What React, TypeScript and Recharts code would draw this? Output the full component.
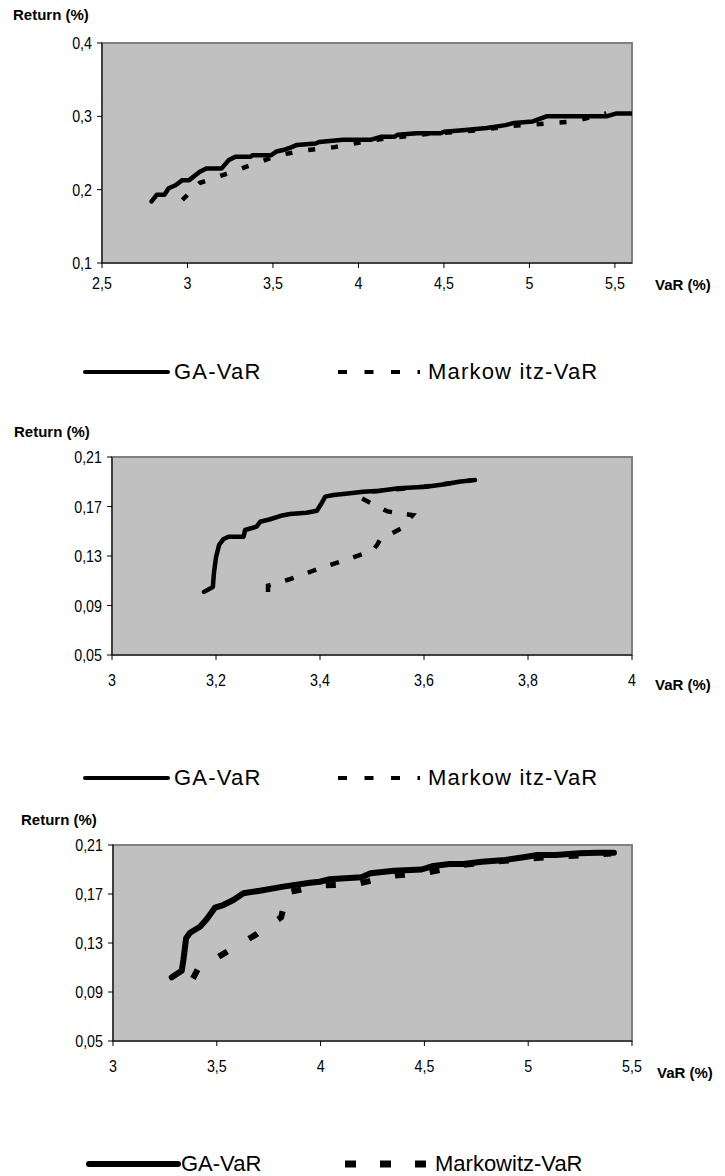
import React from "react";
import { LineChart, Line, XAxis, YAxis, ReferenceArea } from "recharts";

// chart 1 (x = VaR %, y = Return %)
const ga1X = [2.79, 2.82, 2.865, 2.89, 2.93, 2.97, 3.01, 3.07, 3.11, 3.2, 3.24, 3.28, 3.37, 3.38, 3.49, 3.52, 3.56, 3.61, 3.64, 3.75, 3.77, 3.91, 4.07, 4.13, 4.21, 4.23, 4.34, 4.48, 4.5, 4.61, 4.75, 4.86, 4.91, 5.02, 5.1, 5.45, 5.51, 5.6];
const ga1Y = [0.184, 0.193, 0.193, 0.202, 0.206, 0.213, 0.213, 0.224, 0.229, 0.229, 0.24, 0.245, 0.245, 0.247, 0.247, 0.252, 0.254, 0.258, 0.261, 0.263, 0.265, 0.268, 0.268, 0.272, 0.272, 0.275, 0.277, 0.277, 0.279, 0.281, 0.284, 0.288, 0.291, 0.293, 0.3, 0.3, 0.304, 0.304];
const mk1X = [2.97, 3.07, 3.22, 3.39, 3.53, 3.7, 3.86, 4.0, 4.16, 4.4, 4.7, 4.9, 5.09, 5.25, 5.42, 5.45];
const mk1Y = [0.186, 0.209, 0.221, 0.235, 0.247, 0.254, 0.258, 0.264, 0.27, 0.276, 0.281, 0.287, 0.29, 0.293, 0.302, 0.304];
const x1Ticks = [2.5, 3, 3.5, 4, 4.5, 5, 5.5];
const y1Ticks = [0.1, 0.2, 0.3, 0.4];

// chart 2
const ga2X = [3.177, 3.194, 3.196, 3.2, 3.206, 3.214, 3.224, 3.253, 3.256, 3.278, 3.285, 3.304, 3.323, 3.342, 3.374, 3.394, 3.403, 3.41, 3.426, 3.458, 3.483, 3.515, 3.551, 3.604, 3.64, 3.667, 3.698];
const ga2Y = [0.101, 0.105, 0.116, 0.129, 0.139, 0.1435, 0.1456, 0.1456, 0.151, 0.1537, 0.1577, 0.1597, 0.1623, 0.164, 0.165, 0.1666, 0.1726, 0.178, 0.1793, 0.1807, 0.182, 0.1828, 0.1847, 0.186, 0.188, 0.19, 0.1914];
const mk2X = [3.3, 3.3, 3.34, 3.4, 3.45, 3.5, 3.51, 3.515, 3.555, 3.578, 3.53, 3.478, 3.5, 3.6, 3.69];
const mk2Y = [0.101, 0.106, 0.111, 0.12, 0.127, 0.134, 0.139, 0.143, 0.152, 0.163, 0.166, 0.177, 0.182, 0.186, 0.191];
const x2Ticks = [3, 3.2, 3.4, 3.6, 3.8, 4];
const y2Ticks = [0.05, 0.09, 0.13, 0.17, 0.21];

// chart 3
const ga3X = [3.283, 3.331, 3.339, 3.352, 3.371, 3.419, 3.451, 3.491, 3.531, 3.58, 3.628, 3.708, 3.82, 3.949, 3.996, 4.04, 4.197, 4.241, 4.353, 4.487, 4.543, 4.621, 4.688, 4.777, 4.888, 4.978, 5.045, 5.134, 5.245, 5.335, 5.413];
const ga3Y = [0.102, 0.1074, 0.116, 0.1338, 0.1384, 0.1433, 0.1493, 0.1588, 0.161, 0.1651, 0.1706, 0.1727, 0.176, 0.1792, 0.18, 0.182, 0.1836, 0.1869, 0.189, 0.19, 0.1929, 0.1945, 0.1945, 0.1964, 0.1978, 0.2, 0.2018, 0.2018, 0.2032, 0.2037, 0.2037];
const mk3X = [3.385, 3.41, 3.54, 3.69, 3.81, 3.82, 3.83, 4.0, 4.17, 4.3, 4.36, 4.5, 4.7, 5.0, 5.4];
const mk3Y = [0.101, 0.109, 0.122, 0.137, 0.151, 0.158, 0.171, 0.177, 0.178, 0.183, 0.185, 0.187, 0.194, 0.199, 0.203];
const x3Ticks = [3, 3.5, 4, 4.5, 5, 5.5];
const y3Ticks = [0.05, 0.09, 0.13, 0.17, 0.21];

const toPts = (xs: number[], ys: number[]) => xs.map((x, i) => ({ x, y: ys[i] }));
const comma = (v: number) => String(v).replace(".", ",");

const FONT = "'Liberation Sans', Arial, sans-serif";

// narrow-looking tick text (no Arial Narrow installed, so squeeze it)
function NarrowTick(props: any) {
  const { x, y, payload, textAnchor, vertical } = props;
  return (
    <g transform={`translate(${x},${y}) scale(0.84,1)`}>
      <text x={0} y={0} dy={vertical ? "0.36em" : "0.71em"} textAnchor={textAnchor} fill="#000" fontSize={17} fontFamily={FONT}>
        {comma(payload.value)}
      </text>
    </g>
  );
}

interface FrontierProps {
  top: number;
  ga: { x: number; y: number }[];
  mk: { x: number; y: number }[];
  xDomain: [number, number];
  yDomain: [number, number];
  xTicks: number[];
  yTicks: number[];
  margin: { top: number; left: number; bottom: number };
  lineWidth: number;
  dash: string;
  tickGap: number;
}

function Frontier({ top, ga, mk, xDomain, yDomain, xTicks, yTicks, margin, lineWidth, dash, tickGap }: FrontierProps) {
  return (
    <div style={{ position: "absolute", left: 0, top }}>
      <LineChart width={725} height={300} margin={{ top: margin.top, right: 93, left: margin.left, bottom: margin.bottom }}>
        <ReferenceArea x1={xDomain[0]} x2={xDomain[1]} y1={yDomain[0]} y2={yDomain[1]} fill="#c0c0c0" fillOpacity={1} stroke="#808080" strokeWidth={2} />
        <XAxis
          type="number"
          dataKey="x"
          domain={xDomain}
          ticks={xTicks}
          allowDataOverflow
          height={35}
          tickSize={5}
          tickMargin={tickGap}
          axisLine={{ stroke: "#000" }}
          tickLine={{ stroke: "#000" }}
          tick={(p: any) => <NarrowTick {...p} vertical={false} />}
        />
        <YAxis
          type="number"
          dataKey="y"
          domain={yDomain}
          ticks={yTicks}
          allowDataOverflow
          width={60}
          tickSize={5}
          tickMargin={5}
          axisLine={{ stroke: "#000" }}
          tickLine={{ stroke: "#000" }}
          tick={(p: any) => <NarrowTick {...p} vertical={true} />}
        />
        <Line data={mk} dataKey="y" stroke="#000" strokeWidth={lineWidth} strokeDasharray={dash} dot={false} isAnimationActive={false} />
        <Line data={ga} dataKey="y" stroke="#000" strokeWidth={lineWidth} strokeLinecap="round" strokeLinejoin="round" dot={false} isAnimationActive={false} />
      </LineChart>
    </div>
  );
}

function Title({ text, left, top }: { text: string; left: number; top: number }) {
  return (
    <div style={{ position: "absolute", left, top: top - 9, fontFamily: FONT, fontWeight: "bold", fontSize: 15, lineHeight: "18px", color: "#000" }}>
      {text}
    </div>
  );
}

function LegendRow({ top, heavy, mkLabel }: { top: number; heavy: boolean; mkLabel: string }) {
  const textStyle: React.CSSProperties = {
    position: "absolute",
    top: top - 14,
    fontFamily: FONT,
    fontSize: 22,
    lineHeight: "28px",
    letterSpacing: heavy ? 0 : 1.2,
    color: "#000",
  };
  return (
    <>
      <svg style={{ position: "absolute", left: 0, top: top - 10 }} width={725} height={20}>
        <line x1={heavy ? 89 : 85} x2={heavy ? 178 : 168} y1={10} y2={10} stroke="#000" strokeWidth={heavy ? 6 : 4} strokeLinecap="round" />
        {heavy ? (
          <line x1={345} x2={428} y1={10} y2={10} stroke="#000" strokeWidth={7} strokeDasharray="11 24" />
        ) : (
          <line x1={338} x2={420} y1={10} y2={10} stroke="#000" strokeWidth={4} strokeDasharray="9 17.5" />
        )}
      </svg>
      <div style={{ ...textStyle, left: heavy ? 181 : 174 }}>GA-VaR</div>
      <div style={{ ...textStyle, left: heavy ? 435 : 428 }}>{mkLabel}</div>
    </>
  );
}

export default function App() {
  return (
    <div style={{ position: "absolute", left: 0, top: 0, width: 725, height: 1176, background: "#fff" }}>
      <Frontier
        top={0}
        ga={toPts(ga1X, ga1Y)}
        mk={toPts(mk1X, mk1Y)}
        xDomain={[2.5, 5.6]}
        yDomain={[0.1, 0.4]}
        xTicks={x1Ticks}
        yTicks={y1Ticks}
        margin={{ top: 43, left: 42, bottom: 2 }}
        lineWidth={4.5}
        dash="7 16"
        tickGap={9}
      />
      <Title text="Return (%)" left={13} top={15} />
      <Title text="VaR (%)" left={655} top={285} />
      <LegendRow top={372} heavy={false} mkLabel="Markow itz-VaR" />

      <Frontier
        top={400}
        ga={toPts(ga2X, ga2Y)}
        mk={toPts(mk2X, mk2Y)}
        xDomain={[3, 4]}
        yDomain={[0.05, 0.21]}
        xTicks={x2Ticks}
        yTicks={y2Ticks}
        margin={{ top: 57, left: 52, bottom: 10 }}
        lineWidth={4.5}
        dash="9 15"
        tickGap={14}
      />
      <Title text="Return (%)" left={14} top={432} />
      <Title text="VaR (%)" left={655} top={685} />
      <LegendRow top={778} heavy={false} mkLabel="Markow itz-VaR" />

      <Frontier
        top={800}
        ga={toPts(ga3X, ga3Y)}
        mk={toPts(mk3X, mk3Y)}
        xDomain={[3, 5.5]}
        yDomain={[0.05, 0.21]}
        xTicks={x3Ticks}
        yTicks={y3Ticks}
        margin={{ top: 45, left: 53, bottom: 24 }}
        lineWidth={6}
        dash="10 25"
        tickGap={14}
      />
      <Title text="Return (%)" left={21} top={820} />
      <Title text="VaR (%)" left={657} top={1073} />
      <LegendRow top={1164} heavy={true} mkLabel="Markowitz-VaR" />
    </div>
  );
}
